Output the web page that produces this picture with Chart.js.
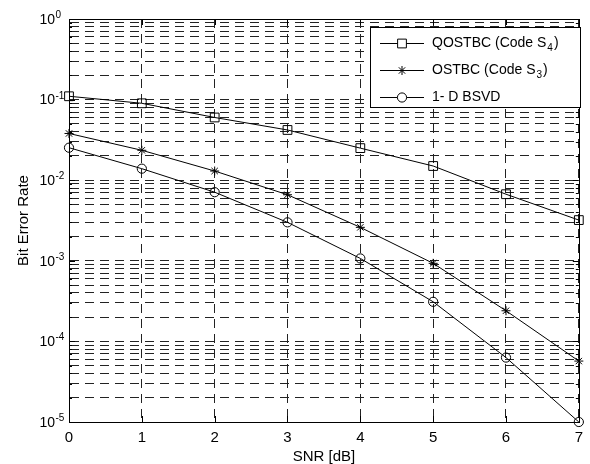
<!DOCTYPE html>
<html>
<head>
<meta charset="utf-8">
<script src="https://cdn.jsdelivr.net/npm/chart.js@4.4.1/dist/chart.umd.min.js"></script>
<style>
  html, body { margin: 0; padding: 0; background: #fff; }
  canvas { display: block; }
</style>
</head>
<body>
<canvas id="chart" width="590" height="464"></canvas>
<script>
// valores
var snr = [0, 1, 2, 3, 4, 5, 6, 7];
var qostbc = [0.11, 0.09, 0.060, 0.042, 0.025, 0.015, 0.0067, 0.0032];
var ostbc = [0.038, 0.0235, 0.013, 0.0066, 0.0026, 0.00093, 0.00024, 0.000057];
var bsvd = [0.0253, 0.0139, 0.0071, 0.0030, 0.00107, 0.00031, 0.000063, 0.00001];
var decadas = [-5, -4, -3, -2, -1, 0];
var legendas = [
  { texto: "QOSTBC (Code S", sub: "4", fim: ")" },
  { texto: "OSTBC (Code S", sub: "3", fim: ")" },
  { texto: "1- D BSVD", sub: "", fim: "" }
];

var FONTE = "'Liberation Sans', Arial, Helvetica, sans-serif";

var pontos = function (ys) {
  return snr.map(function (x, i) { return { x: x, y: ys[i] }; });
};

var estilos = [
  { pointStyle: 'rect', radius: 6.2 },
  { pointStyle: 'star', radius: 4.5 },
  { pointStyle: 'circle', radius: 4.6 }
];

var series = [qostbc, ostbc, bsvd];

var datasets = series.map(function (ys, i) {
  return {
    label: legendas[i].texto,
    data: pontos(ys),
    borderColor: '#000',
    borderWidth: 1,
    backgroundColor: 'rgba(0,0,0,0)',
    pointStyle: estilos[i].pointStyle,
    pointRadius: estilos[i].radius,
    pointBorderColor: '#000',
    pointBorderWidth: 1,
    pointBackgroundColor: 'rgba(0,0,0,0)',
    tension: 0,
    clip: false
  };
});

// ticks da escala log: 1..9 x 10^n
var ticksLog = [];
decadas.forEach(function (d) {
  for (var m = 1; m <= 9; m++) {
    if (d === 0 && m > 1) break;
    ticksLog.push({ value: m * Math.pow(10, d), major: m === 1 });
  }
});

// desenha o contorno, marcas internas, rotulos 10^n e a legenda
var extras = {
  id: 'extras',
  afterDraw: function (chart) {
    var ctx = chart.ctx;
    var a = chart.chartArea;
    var ys = chart.scales.y, xs = chart.scales.x;
    ctx.save();
    ctx.strokeStyle = '#000';
    ctx.lineWidth = 1;
    ctx.setLineDash([]);

    // caixa
    ctx.strokeRect(Math.round(a.left) + 0.5, Math.round(a.top) + 0.5,
      Math.round(a.right - a.left), Math.round(a.bottom - a.top));

    // marcas internas
    ctx.beginPath();
    ticksLog.forEach(function (t) {
      var py = Math.round(ys.getPixelForValue(t.value)) + 0.5;
      var len = t.major ? 6 : 3;
      ctx.moveTo(a.left, py); ctx.lineTo(a.left + len, py);
      ctx.moveTo(a.right, py); ctx.lineTo(a.right - len, py);
    });
    snr.forEach(function (v) {
      var px = Math.round(xs.getPixelForValue(v)) + 0.5;
      ctx.moveTo(px, a.bottom); ctx.lineTo(px, a.bottom - 6);
      ctx.moveTo(px, a.top); ctx.lineTo(px, a.top + 6);
    });
    ctx.stroke();

    // rotulos do eixo y
    ctx.fillStyle = '#000';
    decadas.forEach(function (d) {
      var py = ys.getPixelForValue(Math.pow(10, d));
      ctx.font = '14px ' + FONTE;
      ctx.textAlign = 'right';
      ctx.textBaseline = 'middle';
      ctx.fillText('10', 55, py + 1);
      ctx.font = '10px ' + FONTE;
      ctx.textAlign = 'left';
      ctx.textBaseline = 'alphabetic';
      ctx.fillText(d === 0 ? '0' : '-' + Math.abs(d), 55.5, py - 1);
    });

    // legenda
    var lx = 370, ly = 27, lw = 210, lh = 80;
    ctx.fillStyle = '#fff';
    ctx.fillRect(lx, ly, lw, lh);
    ctx.strokeRect(lx + 0.5, ly + 0.5, lw, lh);
    var linhas = [43, 70, 97];
    legendas.forEach(function (l, i) {
      var y = linhas[i] + 0.5;
      ctx.strokeStyle = '#000';
      ctx.beginPath();
      ctx.moveTo(380, y); ctx.lineTo(424, y);
      ctx.stroke();
      ctx.fillStyle = '#fff';
      Chart.helpers.drawPoint(ctx, {
        pointStyle: estilos[i].pointStyle,
        radius: estilos[i].radius,
        borderWidth: 1,
        rotation: 0
      }, 402, y);
      ctx.fillStyle = '#000';
      ctx.font = '14px ' + FONTE;
      ctx.textAlign = 'left';
      ctx.textBaseline = 'middle';
      ctx.fillText(l.texto, 432, y);
      if (l.sub) {
        var w = ctx.measureText(l.texto).width;
        ctx.font = '10px ' + FONTE;
        ctx.fillText(l.sub, 432 + w + 1, y + 5);
        var w2 = ctx.measureText(l.sub).width;
        ctx.font = '14px ' + FONTE;
        ctx.fillText(l.fim, 432 + w + w2 + 2, y);
      }
    });
    ctx.restore();
  }
};

var canvas = document.getElementById('chart');
var ctx = canvas.getContext('2d');

var chart = new Chart(ctx, {
  type: 'line',
  data: { datasets: datasets },
  plugins: [extras],
  options: {
    responsive: false,
    animation: false,
    devicePixelRatio: 1,
    layout: { padding: { top: 19, right: 8, left: 0, bottom: 0 } },
    plugins: {
      legend: { display: false },
      tooltip: { enabled: false }
    },
    scales: {
      x: {
        type: 'linear',
        min: 0,
        max: 7,
        ticks: {
          stepSize: 1,
          color: '#000',
          padding: 7,
          font: { family: FONTE, size: 15 }
        },
        grid: {
          color: '#222',
          lineWidth: 1,
          drawTicks: false
        },
        border: { display: true, color: '#000', width: 1, dash: [9, 6] },
        title: {
          display: true,
          text: 'SNR [dB]',
          color: '#000',
          font: { family: FONTE, size: 15 },
          padding: { top: 0, bottom: -2 }
        },
        afterFit: function (s) { s.height = 42; }
      },
      y: {
        type: 'logarithmic',
        min: 1e-5,
        max: 1,
        afterBuildTicks: function (s) {
          s.ticks = ticksLog.map(function (t) { return { value: t.value, major: t.major }; });
        },
        ticks: { display: false },
        grid: {
          color: '#222',
          lineWidth: 1,
          drawTicks: false
        },
        border: { display: true, color: '#000', width: 1, dash: [9, 6] },
        title: {
          display: true,
          text: 'Bit Error Rate',
          color: '#000',
          font: { family: FONTE, size: 15 },
          padding: { top: 15, bottom: 0 }
        },
        afterFit: function (s) { s.width = 69; }
      }
    }
  }
});
</script>
</body>
</html>
